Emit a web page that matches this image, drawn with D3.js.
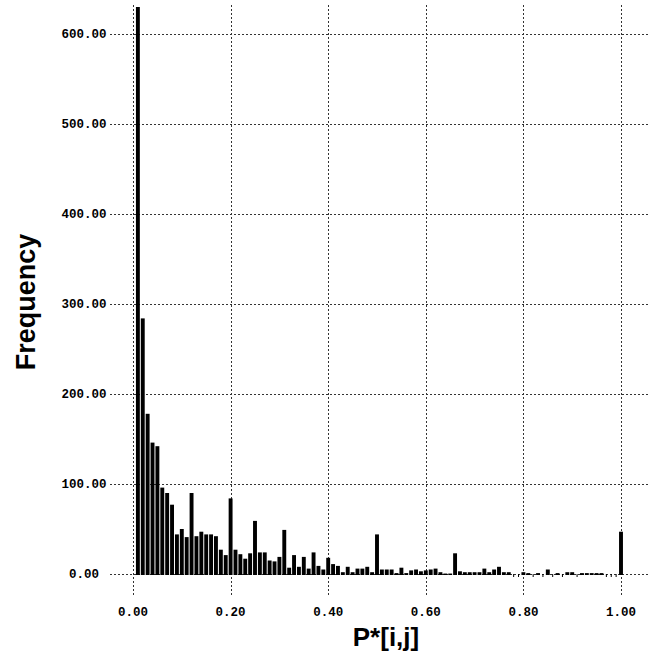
<!DOCTYPE html>
<html>
<head>
<meta charset="utf-8">
<script src="https://cdn.jsdelivr.net/npm/d3@7"></script>
<style>
  html, body { margin: 0; padding: 0; background: #fff; }
  svg { display: block; }
</style>
</head>
<body>
<svg id="chart" width="658" height="654"></svg>
<script>
// Bin centres are k/100 for k = 1..100
const binCenters = d3.range(1, 101).map(k => k / 100);
const frequency = [
  630, 284, 178, 146, 142, 96, 90, 77, 44, 50,
  41, 90, 42, 47, 44, 44, 42, 27, 21, 84,
  27, 22, 17, 23, 59, 24, 24, 15, 14, 19,
  49, 7, 21, 8, 19, 6, 24, 9, 5, 18,
  11, 9, 2, 8, 2, 6, 6, 8, 2, 44,
  5, 5, 5, 1, 7, 1, 4, 5, 3, 4,
  5, 6, 2, 0.5, 0.5, 23, 3, 2, 2, 2,
  2, 6, 2, 5, 8, 2, 2, 0, 0, 2,
  1, 0, 1, 0, 5, 0, 1, 0, 2, 2,
  0, 1, 1, 1, 1, 1, 0, 0, 0, 47
];
const xTicks = [0, 0.2, 0.4, 0.6, 0.8, 1.0];
const yTicks = [0, 100, 200, 300, 400, 500, 600];
const xTitle = "P*[i,j]";
const yTitle = "Frequency";

const svg = d3.select("#chart");
const x = d3.scaleLinear().domain([0, 1]).range([133, 621]);
const y = d3.scaleLinear().domain([0, 600]).range([574, 34]);

const gridLeft = 110, gridRight = 650, gridTop = 5, gridBottom = 596;
const mono = "'Liberation Mono', 'Courier New', monospace";
const sans = "'Liberation Sans', Arial, Helvetica, sans-serif";

// grid
const grid = svg.append("g").attr("stroke", "#333").attr("stroke-width", 1)
  .attr("stroke-dasharray", "2,2").attr("shape-rendering", "crispEdges");
grid.selectAll("line.h").data(yTicks).join("line").attr("class", "h")
  .attr("x1", gridLeft).attr("x2", gridRight)
  .attr("y1", d => Math.round(y(d)) + 0.5).attr("y2", d => Math.round(y(d)) + 0.5);
grid.selectAll("line.v").data(xTicks).join("line").attr("class", "v")
  .attr("x1", d => Math.round(x(d)) + 0.5).attr("x2", d => Math.round(x(d)) + 0.5)
  .attr("y1", gridTop).attr("y2", gridBottom);

// bars
const step = x(0.01) - x(0);
const bw = step * 0.8;
svg.append("g").selectAll("rect").data(binCenters.map((c, i) => ({c, v: frequency[i]})))
  .join("rect")
  .attr("x", d => d.v > 0 ? x(d.c) - bw / 2 : x(d.c) - 0.5)
  .attr("width", d => d.v > 0 ? bw : 1)
  .attr("y", d => d.v > 0 ? y(d.v) : y(0))
  .attr("height", d => d.v > 0 ? y(0) - y(d.v) + 1 : 3)
  .attr("fill", "#000");

// y tick labels
svg.append("g").selectAll("text").data(yTicks).join("text")
  .attr("x", 84).attr("y", d => y(d)).attr("dy", "0.35em")
  .attr("text-anchor", "middle")
  .attr("font-family", mono).attr("font-weight", "bold").attr("font-size", 12.5)
  .attr("fill", "#000")
  .text(d => d3.format(".2f")(d));

// x tick labels
svg.append("g").selectAll("text").data(xTicks).join("text")
  .attr("x", d => x(d)).attr("y", 612).attr("dy", "0.35em")
  .attr("text-anchor", "middle")
  .attr("font-family", mono).attr("font-weight", "bold").attr("font-size", 12.5)
  .attr("fill", "#000")
  .text(d => d3.format(".2f")(d));

// titles
svg.append("text").attr("x", 386).attr("y", 646)
  .attr("text-anchor", "middle")
  .attr("font-family", sans).attr("font-weight", "bold").attr("font-size", 26)
  .text(xTitle);
svg.append("text")
  .attr("transform", "translate(35,302) rotate(-90)")
  .attr("text-anchor", "middle")
  .attr("font-family", sans).attr("font-weight", "bold").attr("font-size", 27)
  .text(yTitle);
</script>
</body>
</html>
